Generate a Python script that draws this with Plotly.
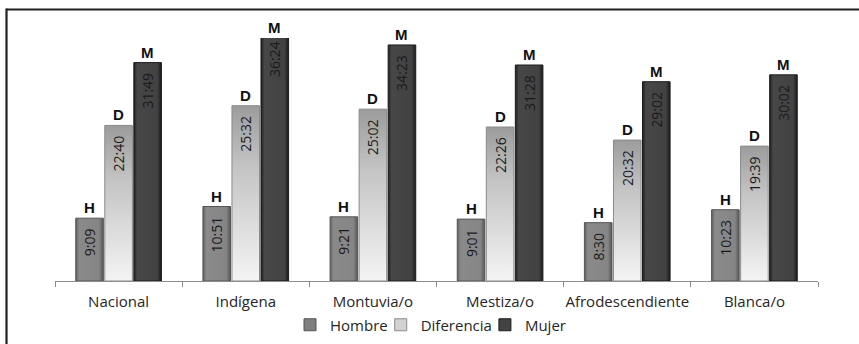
import plotly.graph_objects as go

# Weekly hours (h:mm) by ethnic self-identification
categorias = ["Nacional", "Indígena", "Montuvia/o", "Mestiza/o", "Afrodescendiente", "Blanca/o"]
hombre = ["9:09", "10:51", "9:21", "9:01", "8:30", "10:23"]
diferencia = ["22:40", "25:32", "25:02", "22:26", "20:32", "19:39"]
mujer = ["31:49", "36:24", "34:23", "31:28", "29:02", "30:02"]

series_names = ["Hombre", "Diferencia", "Mujer"]
series_letters = ["H", "D", "M"]
series_values = [hombre, diferencia, mujer]
series_colors = ["#7f7f7f", "#d2d2d2", "#434343"]
series_edges = ["#555555", "#8a8a8a", "#1c1c1c"]

Y_MAX = 35.4
BARGAP = 0.315
BARGROUPGAP = 0.05
W, H = 859, 344
M_L, M_R, M_T, M_B = 55, 41, 38, 63
PLOT_W = W - M_L - M_R
PLOT_H = H - M_T - M_B


def to_hours(s):
    h, m = s.split(":")
    return int(h) + int(m) / 60.0


fig = go.Figure()
for name, vals, col, edge in zip(series_names, series_values, series_colors, series_edges):
    fig.add_trace(go.Bar(
        name=name,
        x=categorias,
        y=[to_hours(v) for v in vals],
        text=[v + "\u00a0\u00a0" for v in vals],
        textposition="inside",
        insidetextanchor="end",
        textangle=-90,
        insidetextfont=dict(family="Open Sans", size=14, color="#1a1a1a"),
        marker=dict(color=col, line=dict(color=edge, width=1)),
        hoverinfo="skip",
    ))

# Series letters above each bar
slot_px = PLOT_W / len(categorias)
bar_slot_px = slot_px * (1 - BARGAP) / len(series_names)
annotations = []
for k, (letter, vals) in enumerate(zip(series_letters, series_values)):
    shift = (k - (len(series_names) - 1) / 2) * bar_slot_px
    for cat, v in zip(categorias, vals):
        annotations.append(dict(
            x=cat, y=min(to_hours(v), Y_MAX), xref="x", yref="y",
            text="<b>%s</b>" % letter, showarrow=False,
            xanchor="center", yanchor="bottom", xshift=shift, yshift=0,
            font=dict(family="Liberation Sans", size=15, color="#111111"),
        ))

# Frame lines (top and left border of the figure box)
def px_x(px):
    return (px - M_L) / PLOT_W


def px_y(py):
    return (H - M_B - py) / PLOT_H


shapes = [
    dict(type="line", xref="paper", yref="paper", x0=px_x(6.5), x1=px_x(860),
         y0=px_y(9.5), y1=px_y(9.5), line=dict(color="#231f20", width=2.2)),
    dict(type="line", xref="paper", yref="paper", x0=px_x(6.5), x1=px_x(6.5),
         y0=px_y(8.5), y1=px_y(345), line=dict(color="#231f20", width=2.2)),
]

fig.update_layout(
    width=W, height=H,
    margin=dict(l=M_L, r=M_R, t=M_T, b=M_B, pad=0, autoexpand=False),
    paper_bgcolor="white", plot_bgcolor="white",
    barmode="group", bargap=BARGAP, bargroupgap=BARGROUPGAP,
    font=dict(family="Open Sans", size=15, color="#262626"),
    xaxis=dict(
        type="category", showline=True, linecolor="#8c8c8c", linewidth=1,
        ticks="outside", ticklen=5, tickcolor="#8c8c8c", tickwidth=1,
        tickson="boundaries", showgrid=False, zeroline=False,
        tickangle=0, automargin=False, ticklabelstandoff=7,
        tickfont=dict(family="Open Sans", size=15, color="#262626"),
    ),
    yaxis=dict(range=[0, Y_MAX], visible=False, showgrid=False, zeroline=False),
    legend=dict(
        orientation="h", x=0.5, xanchor="center", y=px_y(325), yanchor="middle",
        font=dict(family="Open Sans", size=15, color="#262626"),
        itemwidth=30, indentation=-12, traceorder="normal",
    ),
    showlegend=True,
    annotations=annotations,
    shapes=shapes,
)

# Shaded fills for the bars (metallic look)
post_js = """
var gd = document.getElementById('{plot_id}');
var ns = 'http://www.w3.org/2000/svg';
var svg = gd.querySelector('svg.main-svg');
var defs = svg.querySelector('defs');
if (!defs) { defs = document.createElementNS(ns, 'defs'); svg.insertBefore(defs, svg.firstChild); }
function grad(id, vertical, stops) {
  var g = document.createElementNS(ns, 'linearGradient');
  g.setAttribute('id', id);
  g.setAttribute('x1', '0'); g.setAttribute('y1', '0');
  g.setAttribute('x2', vertical ? '0' : '1'); g.setAttribute('y2', vertical ? '1' : '0');
  stops.forEach(function (s) {
    var st = document.createElementNS(ns, 'stop');
    st.setAttribute('offset', s[0]); st.setAttribute('stop-color', s[1]);
    g.appendChild(st);
  });
  defs.appendChild(g);
}
grad('gHombre', false, [['0', '#5e5e5e'], ['0.12', '#8a8a8a'], ['0.85', '#858585'], ['1', '#555555']]);
grad('gDif', true, [['0', '#9c9c9c'], ['0.35', '#c4c4c4'], ['1', '#f4f4f4']]);
grad('gMujer', false, [['0', '#1e1e1e'], ['0.12', '#474747'], ['0.85', '#424242'], ['1', '#1a1a1a']]);
var ids = ['gHombre', 'gDif', 'gMujer'];
gd.querySelectorAll('.barlayer .trace').forEach(function (t, i) {
  t.querySelectorAll('.point path').forEach(function (p) { p.style.fill = 'url(#' + ids[i] + ')'; });
});
"""

fig.write_html("out.html", post_script=post_js)
